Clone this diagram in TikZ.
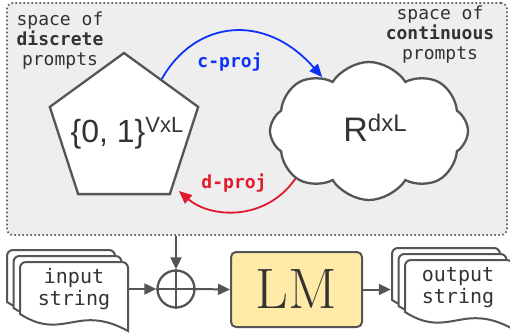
\documentclass[tikz,border=0pt]{standalone}
\usepackage{fontspec}
\usetikzlibrary{shapes.geometric,shapes.symbols,arrows.meta,calc}
\newfontfamily\monof{DejaVu Sans Mono}
\newfontfamily\sansf{Liberation Sans}
\definecolor{edge}{HTML}{555555}
\definecolor{txt}{HTML}{333333}
\definecolor{boxfill}{HTML}{EEEEEE}
\definecolor{dotc}{HTML}{666666}
\definecolor{cblue}{RGB}{15,50,250}
\definecolor{dred}{RGB}{225,25,45}
\definecolor{lmfill}{RGB}{255,234,168}
\newcommand\docsheet[1]{%
  \filldraw[docst, shift={#1}] (0,30) [rounded corners=6pt] -- (0,0) -- (108,0) -- (108,30)
    [sharp corners] -- (108,69) .. controls (95,62) and (80,56) .. (60,59)
    .. controls (40,62) and (25,68) .. (0,52) -- cycle;}
\begin{document}
\begin{tikzpicture}[x=1pt,y=-1pt,
  docst/.style={fill=white, draw=edge, line width=2pt},
  shapest/.style={draw=edge, fill=white, line width=2.3pt, inner sep=0pt},
  arr/.style={draw=edge, line width=2pt, -{Triangle[length=12pt,width=11pt]}},
  monotxt/.style={font=\monof\fontsize{18}{20}\selectfont, text=txt, align=center, inner sep=0pt},
  doctxt/.style={font=\monof\fontsize{20}{22}\selectfont, text=txt, align=center, inner sep=0pt},
  projlbl/.style={font=\monof\bfseries\fontsize{18}{20}\selectfont, inner sep=0pt},
  carrow/.style={draw=cblue, line width=1.8pt, -{Triangle[length=13pt,width=11pt]}},
  darrow/.style={draw=dred, line width=1.8pt, -{Triangle[length=13pt,width=11pt]}}]
\useasboundingbox (0,0) rectangle (510,336);

% space box
\node[draw=dotc, fill=boxfill, line width=1.7pt, dash pattern=on 1.7pt off 2.3pt,
  rounded corners=6pt, minimum width=500pt, minimum height=232pt, inner sep=0pt]
  (space) at (257,119) {};

% discrete pentagon
\node[shapest, regular polygon, regular polygon sides=5, minimum size=156pt]
  (disc) at (124,131) {};
\node[text=txt, inner sep=0pt, anchor=base] (disclbl) at (127,143)
  {\sansf\fontsize{32}{32}\selectfont \{0, 1\}\raisebox{10pt}{\fontsize{22}{22}\selectfont VxL}};

% continuous cloud
\node[shapest, cloud, cloud puffs=8, cloud puff arc=115, aspect=1.45,
  minimum width=198pt, minimum height=138pt] (cont) at (369,131) {};
\node[text=txt, inner sep=0pt, anchor=base] (contlbl) at (375,142)
  {\sansf\fontsize{34}{34}\selectfont R\raisebox{10pt}{\fontsize{24}{24}\selectfont dxL}};

% side labels
\node[monotxt] (dlab) at (60,41) {space of\\\textbf{discrete}\\prompts};
\node[monotxt] (clab) at (440,35) {space of\\\textbf{continuous}\\prompts};

% projections
\draw[carrow] (disc.side 5) .. controls (195,20) and (265,12) .. (cont.131);
\node[projlbl, text=cblue] (cproj) at (230,62) {c-proj};
\draw[darrow, shorten >=7pt] (cont.213) .. controls (265,222) and (210,218) ..
  ($(disc.corner 5)!0.9!(disc.corner 4)$);
\node[projlbl, text=dred] (dproj) at (234,183) {d-proj};

% input documents
\docsheet{(7,250)}
\docsheet{(13.5,256)}
\docsheet{(20,262)}
\node[doctxt, minimum width=108pt, minimum height=50pt] (inDoc) at (74,289) {input\\string};

% output documents
\docsheet{(392,248)}
\docsheet{(398.5,254)}
\docsheet{(405,260)}
\node[doctxt, minimum width=134pt, minimum height=50pt] (outDoc) at (458,288) {output\\string};

% plus
\node[circle, draw=edge, line width=2.3pt, minimum size=37pt, inner sep=0pt] (plus) at (176,289) {};
\draw[edge, line width=2.3pt] (plus.north) -- (plus.south) (plus.west) -- (plus.east);

% LM
\node[draw=edge, fill=lmfill, line width=2pt, rounded corners=5pt,
  minimum width=131pt, minimum height=75pt, inner sep=0pt,
  font=\fontsize{57}{57}\selectfont, text=txt] (lm) at (296.5,289.5) {LM};

% connectors
\draw[arr] (space.south -| plus) -- (plus.north);
\draw[arr] (inDoc.east) -- (plus.west);
\draw[arr] (plus.east) -- (lm.west);
\draw[arr] (lm.east) -- (lm.east -| outDoc.west);
\end{tikzpicture}
\end{document}
